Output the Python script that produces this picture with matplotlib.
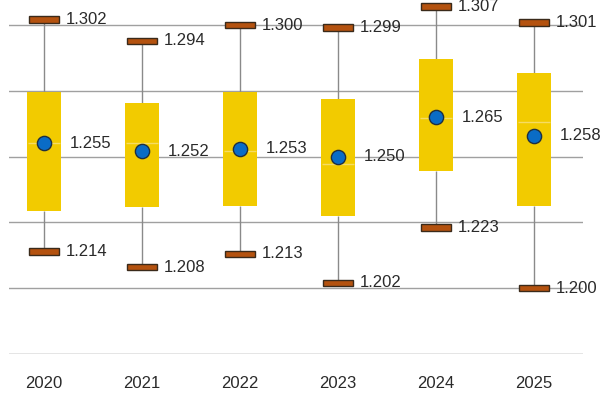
import matplotlib.pyplot as plt

years = ['2020', '2021', '2022', '2023', '2024', '2025']
low = [1.214, 1.208, 1.213, 1.202, 1.223, 1.200]
q1 = [1.2294, 1.2308, 1.2312, 1.2274, 1.2446, 1.2312]
median = [1.2550, 1.2553, 1.2521, 1.2470, 1.2645, 1.2632]
q3 = [1.2746, 1.2703, 1.2744, 1.2719, 1.2870, 1.2819]
high = [1.302, 1.294, 1.300, 1.299, 1.307, 1.301]
mean = [1.255, 1.252, 1.253, 1.250, 1.265, 1.258]

plt.rcParams['font.family'] = ['Liberation Sans', 'DejaVu Sans']

fig = plt.figure(figsize=(6, 3.96), dpi=100)
ax = fig.add_axes([9 / 600, 1 - 354 / 396, 574 / 600, 354 / 396])

x = list(range(len(years)))
ax.set_xlim(-0.357, 5.5)
ax.set_ylim(1.175, 1.3095)

# gridlines
for g in [1.2, 1.225, 1.25, 1.275, 1.3]:
    ax.axhline(g, color='#a0a0a0', lw=1, zorder=0)
ax.axhline(1.175, color='#e2e2e2', lw=2, zorder=0)

# whiskers
ax.vlines(x, low, q1, color='#8a8a8a', lw=1, zorder=1)
ax.vlines(x, q3, high, color='#8a8a8a', lw=1, zorder=1)

# boxes
box_h = [b - a for a, b in zip(q1, q3)]
ax.bar(x, box_h, bottom=q1, width=0.337, color='#f2cb00', zorder=2)
ax.hlines(median, [i - 0.168 for i in x], [i + 0.168 for i in x],
          color='#f6dc63', lw=1, zorder=3)

# caps
cap_h = 0.0025
ax.bar(x, cap_h, bottom=[v - cap_h / 2 for v in high], width=0.316,
       color='#b4520f', edgecolor='#3a2a1a', lw=1, zorder=4)
ax.bar(x, cap_h, bottom=[v - cap_h / 2 for v in low], width=0.316,
       color='#b4520f', edgecolor='#3a2a1a', lw=1, zorder=4)

# means
ax.scatter(x, mean, s=105, color='#0a6cc6', edgecolor='#1f2f40', lw=1, zorder=5)

for i in x:
    ax.text(i + 0.225, high[i], f'{high[i]:.3f}', va='center', ha='left',
            fontsize=12, color='#2a2a2a', zorder=6)
    ax.text(i + 0.225, low[i], f'{low[i]:.3f}', va='center', ha='left',
            fontsize=12, color='#2a2a2a', zorder=6)
    ax.text(i + 0.26, mean[i], f'{mean[i]:.3f}', va='center', ha='left',
            fontsize=12, color='#2a2a2a', zorder=6)

ax.set_xticks(x)
ax.set_xticklabels(years, fontsize=12, color='#2a2a2a')
ax.tick_params(axis='x', length=0, pad=16)
ax.set_yticks([])
for s in ax.spines.values():
    s.set_visible(False)

fig.savefig('out.png', dpi=100)
